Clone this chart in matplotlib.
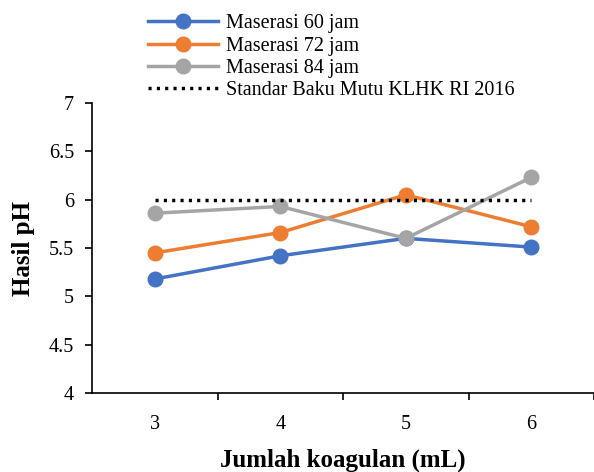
import matplotlib
matplotlib.use('Agg')
from matplotlib import pyplot as plt
import numpy as np

plt.rcParams['font.family'] = ['Liberation Serif', 'DejaVu Serif']

kategori = ['3', '4', '5', '6']
maserasi_60 = [5.18, 5.42, 5.60, 5.51]
maserasi_72 = [5.45, 5.66, 6.05, 5.72]
maserasi_84 = [5.86, 5.93, 5.60, 6.23]
standar = [6, 6, 6, 6]

x = np.arange(len(kategori))

fig = plt.figure(figsize=(5.94, 4.72), dpi=100)
ax = fig.add_axes([0.155, 0.167, 0.845, 0.615])

ax.plot(x, maserasi_60, color='#4472C4', lw=2.5, marker='o', ms=10.5, label='Maserasi 60 jam')
ax.plot(x, maserasi_72, color='#ED7D31', lw=2.5, marker='o', ms=10.5, label='Maserasi 72 jam')
ax.plot(x, maserasi_84, color='#A5A5A5', lw=2.5, marker='o', ms=10.5, label='Maserasi 84 jam')
ax.plot(x, standar, color='black', lw=2.5, linestyle=(0, (0.9, 1.5)),
        label='Standar Baku Mutu KLHK RI 2016')

ax.set_xlim(-0.5, 3.5)
ax.set_ylim(4, 7)
ax.set_yticks(np.arange(4, 7.01, 0.5))
ax.set_yticklabels(['4', '4.5', '5', '5.5', '6', '6.5', '7'])
ax.set_xticks(x)
ax.set_xticklabels(kategori)
ax.tick_params(axis='x', which='major', length=0, pad=16, labelsize=14.5)
ax.set_xticks([0.5, 1.5, 2.5, 3.5], minor=True)
ax.tick_params(axis='x', which='minor', length=5, width=1.2, direction='out')
ax.tick_params(axis='y', length=5, width=1.2, direction='out', labelsize=14.5, pad=8)

for s in ['top', 'right']:
    ax.spines[s].set_visible(False)
for s in ['left', 'bottom']:
    ax.spines[s].set_linewidth(1.2)

ax.set_xlabel('Jumlah koagulan (mL)', fontsize=18, fontweight='bold', labelpad=10)
ax.set_ylabel('Hasil pH', fontsize=18, fontweight='bold', labelpad=10)

fig.legend(loc='upper left', bbox_to_anchor=(148 / 594, 0.97), frameon=False, fontsize=14.5,
           handlelength=3.5, handletextpad=0.35, labelspacing=0.16, borderaxespad=0, borderpad=0)

fig.savefig('out.png', dpi=100)
